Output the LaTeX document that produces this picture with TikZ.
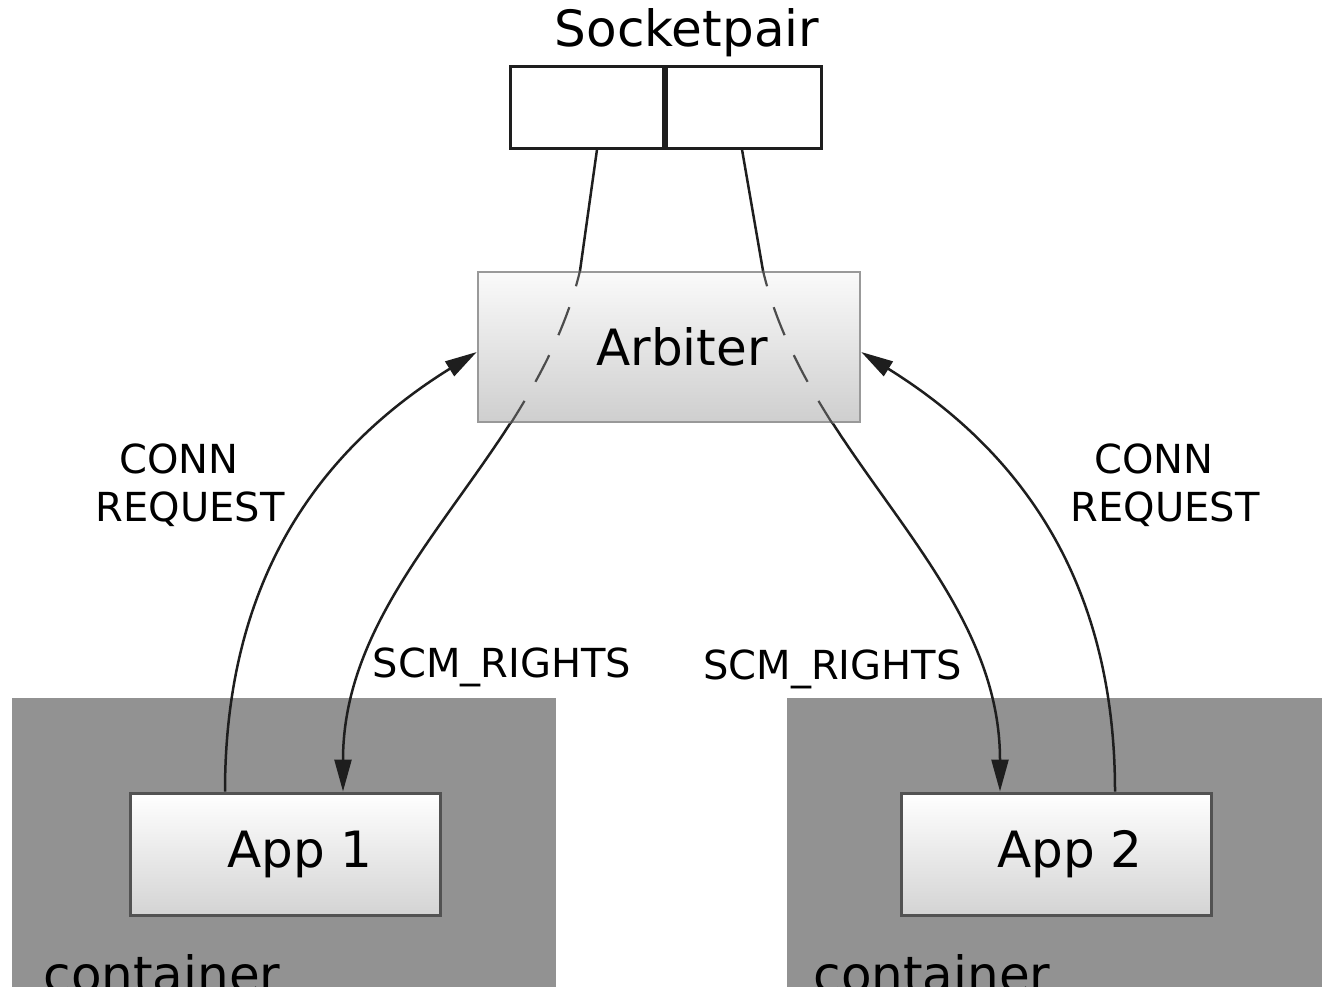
\documentclass[tikz,border=0pt]{standalone}
\usepackage{fontspec}
\setmainfont{DejaVu Sans}
\usetikzlibrary{arrows.meta}
\definecolor{shell}{HTML}{929292}
\definecolor{ink}{HTML}{1E1E1E}
\pgfdeclarelayer{ground}
\pgfdeclarelayer{behind}
\pgfsetlayers{ground,behind,main}
\begin{document}
\begin{tikzpicture}[x=1pt,y=-1pt,
  bigtext/.style={font=\fontsize{50}{60}\selectfont},
  smalltext/.style={font=\fontsize{40}{48}\selectfont},
  shellbox/.style={fill=shell, inner sep=0pt},
  cell/.style={draw=ink, line width=3pt, fill=white, minimum height=82pt, inner sep=0pt},
  appbox/.style={draw=black!68, line width=3pt, top color=white, bottom color=black!17,
    minimum width=310pt, minimum height=122pt, inner sep=0pt, bigtext},
  arbbox/.style={draw=black!40, line width=2.5pt, top color=black!2, bottom color=black!19,
    minimum width=382pt, minimum height=150pt, inner sep=0pt, bigtext},
  link/.style={draw=ink, line width=2.5pt},
  tip/.style={-{Triangle[length=32pt,width=17pt]}},
  hidden/.style={draw=black!70, line width=2.2pt, dash pattern=on 30pt off 22pt, dash phase=14pt},
]
\useasboundingbox (0,0) rectangle (1322,986);
\clip (0,0) rectangle (1322,986);

% containers
\begin{pgfonlayer}{ground}
  \node[shellbox, minimum width=544pt, minimum height=302pt] (c1) at (284,849) {};
  \node[shellbox, minimum width=543pt, minimum height=302pt] (c2) at (1058.5,849) {};
\end{pgfonlayer}
\node[bigtext, anchor=base west] (c1label) at (40,992) {container};
\node[bigtext, anchor=base west] (c2label) at (810,992) {container};

% applications
\node[appbox] (app1) at (285,854) {\hspace*{30pt}App 1};
\node[appbox] (app2) at (1056.5,854) {\hspace*{27pt}App 2};

% socket pair
\node[cell, minimum width=153pt] (spl) at (586.5,107) {};
\node[cell, minimum width=155pt] (spr) at (743.5,107) {};
\node[bigtext, anchor=base] (splabel) at (687,46) {Socketpair};

% arbiter
\node[arbbox] (arb) at (669,347) {\hspace*{26pt}Arbiter};

% socket ends held by the arbiter
\draw[link] ([xshift=10.5pt]spl.south) -- ([xshift=-89pt]arb.north);
\draw[link] ([xshift=-1.5pt]spr.south) -- ([xshift=94pt]arb.north);

% descriptor hand-over, passing underneath the arbiter
\begin{pgfonlayer}{behind}
  \draw[link, tip] ([xshift=-89pt]arb.north) .. controls +(-45,189) and +(0,-214) .. ([xshift=58pt]app1.north);
  \draw[link, tip] ([xshift=94pt]arb.north) .. controls +(45,189) and +(0,-214) .. ([xshift=-56.5pt]app2.north);
\end{pgfonlayer}

% the same paths seen through the arbiter
\begin{scope}
  \clip (arb.south west) rectangle (arb.north east);
  \draw[hidden] ([xshift=-89pt]arb.north) .. controls +(-45,189) and +(0,-214) .. ([xshift=58pt]app1.north);
  \draw[hidden] ([xshift=94pt]arb.north) .. controls +(45,189) and +(0,-214) .. ([xshift=-56.5pt]app2.north);
\end{scope}

% connection requests
\draw[link, tip] ([xshift=-60pt]app1.north) .. controls +(0,-199) and +(-169,105) .. ([yshift=-5pt]arb.west);
\draw[link, tip] ([xshift=58.5pt]app2.north) .. controls +(0,-199) and +(169,105) .. ([yshift=-5pt]arb.east);

% labels
\node[smalltext, anchor=base] (conn1) at (179,473) {CONN};
\node[smalltext, anchor=base] (req1) at (190,521) {REQUEST};
\node[smalltext, anchor=base] (conn2) at (1154,473) {CONN};
\node[smalltext, anchor=base] (req2) at (1165,521) {REQUEST};
\node[smalltext, anchor=base] (scm1) at (502,677) {SCM\_RIGHTS};
\node[smalltext, anchor=base] (scm2) at (832.5,679) {SCM\_RIGHTS};
\end{tikzpicture}
\end{document}
